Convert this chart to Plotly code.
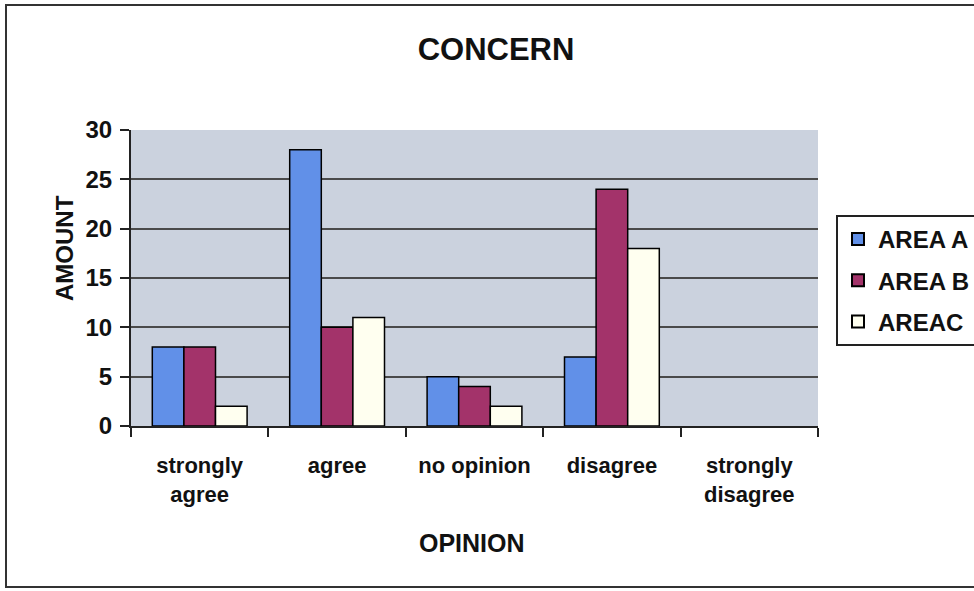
import plotly.graph_objects as go

categories = ["strongly<br>agree", "agree", "no opinion", "disagree", "strongly<br>disagree"]
area_a = [8, 28, 5, 7, 0]
area_b = [8, 10, 4, 24, 0]
area_c = [2, 11, 2, 18, 0]
series_names = ["AREA A", "AREA B", "AREAC"]
series_colors = ["#6190e8", "#a3336a", "#fffff0"]
y_ticks = [0, 5, 10, 15, 20, 25, 30]

FONT = "Liberation Sans, Arial, sans-serif"

fig = go.Figure()
for name, vals, col in zip(series_names, [area_a, area_b, area_c], series_colors):
    fig.add_trace(go.Bar(
        x=categories, y=vals, name=name, legendgroup=name,
        marker=dict(color=col,
                    line=dict(color="#000000", width=[1.5 if v else 0 for v in vals])),
    ))

L, R, T, B = 131, 818, 130, 426
W, H = 974, 591
pw, ph = R - L, B - T

def px(x):
    return (x - L) / pw

def py(y):
    return (B - y) / ph

fig.update_layout(
    width=W, height=H,
    margin=dict(l=L, r=W - R, t=T, b=H - B, autoexpand=False),
    paper_bgcolor="#ffffff",
    plot_bgcolor="#cbd2de",
    barmode="group",
    bargap=0.31,
    bargroupgap=0.0,
    font=dict(family=FONT, color="#111111"),
    title=dict(text="CONCERN", x=496 / W, xref="container", xanchor="center",
               y=1 - 49 / H, yref="container", yanchor="middle",
               font=dict(size=31, family=FONT, color="#111111", weight="bold")),
    legend=dict(x=px(836), y=py(215), xanchor="left", yanchor="top",
                bordercolor="#222222", borderwidth=2, bgcolor="#ffffff",
                font=dict(size=24, family=FONT, color="#111111", weight="bold"),
                tracegroupgap=7, itemsizing="constant"),
    showlegend=True,
)

fig.update_xaxes(
    showline=True, linecolor="#222222", linewidth=2,
    ticks="outside", ticklen=9, tickwidth=1.5, tickcolor="#222222",
    tickson="boundaries", showgrid=False,
    tickfont=dict(size=22, family=FONT, color="#111111", weight="bold"),
    ticklabelstandoff=19,
)
fig.update_yaxes(
    range=[0, 30], tickvals=y_ticks,
    showline=True, linecolor="#222222", linewidth=2,
    ticks="outside", ticklen=9, tickwidth=1.5, tickcolor="#222222",
    showgrid=True, gridcolor="#4a4a4a", gridwidth=1.5,
    zeroline=False,
    tickfont=dict(size=24, family=FONT, color="#111111", weight="bold"),
    ticklabelstandoff=3,
)

fig.add_annotation(text="AMOUNT", textangle=-90, x=px(64), y=py(248),
                   xref="paper", yref="paper", showarrow=False,
                   xanchor="center", yanchor="middle",
                   font=dict(size=24, family=FONT, color="#111111", weight="bold"))
fig.add_annotation(text="OPINION", x=px(472), y=py(543),
                   xref="paper", yref="paper", showarrow=False,
                   xanchor="center", yanchor="middle",
                   font=dict(size=25, family=FONT, color="#111111", weight="bold"))

fig.add_shape(type="rect", xref="paper", yref="paper",
              x0=px(6), x1=px(990), y0=py(587), y1=py(5),
              line=dict(color="#333333", width=2), fillcolor="rgba(0,0,0,0)",
              layer="below")

fig.write_html("out.html", config={"displayModeBar": False})

with open("out.html", "r", encoding="utf-8") as f:
    html = f.read()
html = html.replace("<body>", '<body style="margin:0;padding:0;overflow:hidden">', 1)
with open("out.html", "w", encoding="utf-8") as f:
    f.write(html)
